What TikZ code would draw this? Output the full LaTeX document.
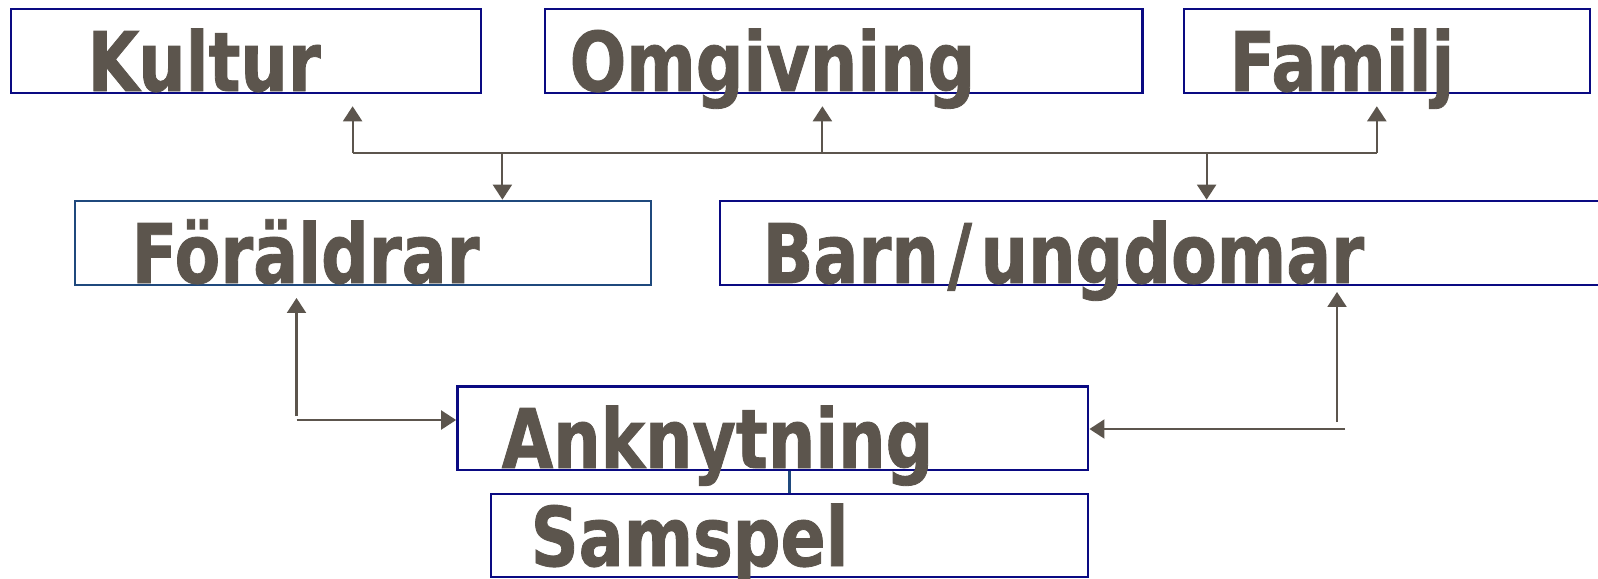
\documentclass[tikz,border=0pt]{standalone}
\usepackage{fontspec}
\newfontfamily\labelfont{DejaVu Sans}[FakeStretch=0.81,FakeBold=1]
\usetikzlibrary{arrows.meta}
\definecolor{boxblue}{RGB}{10,10,130}
\definecolor{boxteal}{RGB}{31,73,125}
\definecolor{txtgray}{RGB}{92,85,77}
\tikzset{
  box/.style={draw=boxblue,line width=0.7pt,inner sep=0pt,minimum height=0.838cm},
  word/.style={anchor=base west,inner sep=0pt,text=txtgray,font=\labelfont\bfseries\fontsize{23.4}{28}\selectfont},
  link/.style={draw=txtgray,line width=0.6pt},
  arr/.style={link,-{Triangle[width=0.19cm,length=0.15cm]}},
  gap/.style={shorten >=#1cm}
}
\begin{document}
\begin{tikzpicture}[x=0.01cm,y=-0.01cm]
\useasboundingbox (0,0) rectangle (1598,578);

% top row
\node[box,minimum width=4.70cm] (kultur) at (246.1,51.1) {};
\node[word] (kulturtxt) at (87,91) {Kultur};
\node[box,minimum width=5.975cm] (omgivning) at (843.7,51.1) {};
\node[word] (omgivningtxt) at (569,91) {Omgivning};
\node[box,minimum width=4.06cm] (familj) at (1387,51.1) {};
\node[word] (familjtxt) at (1229,91) {Familj};

% middle row
\node[box,draw=boxteal,minimum width=5.756cm] (foraldrar) at (363.2,242.8) {};
\node[word] (foraldrartxt) at (131,283) {Föräldrar};
\node[box,minimum width=8.895cm] (barn) at (1165.2,242.8) {};
\node[word] (barntxt) at (762,283) {Barn\kern2.5pt/\kern2.5pt ungdomar};

% bottom
\node[box,minimum width=6.305cm] (ankn) at (772.8,428.2) {};
\node[word] (ankntxt) at (501,468) {Anknytning};
\node[box,minimum width=5.97cm,minimum height=0.83cm] (samspel) at (789.5,535.5) {};
\node[word] (samspeltxt) at (530,566) {Samspel};

% hub between the rows
\coordinate (hubL) at (352.6,153);
\coordinate (hubM) at (822.4,153);
\coordinate (hubR) at (1376.8,153);
\coordinate (hubF) at (502.4,153);
\coordinate (hubB) at (1206.6,153);
\draw[link] (hubL) -- (hubR);
\draw[arr,gap=0.12] (hubL) -- (hubL |- kultur.south);
\draw[arr,gap=0.12] (hubM) -- (hubM |- omgivning.south);
\draw[arr,gap=0.12] (hubR) -- (hubR |- familj.south);
\draw[arr] (hubF) -- (hubF |- foraldrar.north);
\draw[arr] (hubB) -- (hubB |- barn.north);

% attachment
\coordinate (lcorner) at (296.5,420);
\coordinate (lend) at (296.5,416);
\draw[arr,gap=0.12] (lend) -- (lend |- foraldrar.south);
\draw[arr] (lcorner) -- (lcorner -| ankn.west);

\coordinate (rcorner) at (1345,429);
\coordinate (rend) at (1337,422);
\draw[arr,gap=0.06] (rend) -- (rend |- barn.south);
\draw[arr] (rcorner) -- (rcorner -| ankn.east);

\draw[draw=boxteal,line width=0.6pt] (ankn.south -| samspel.north) -- (samspel.north);
\end{tikzpicture}
\end{document}
